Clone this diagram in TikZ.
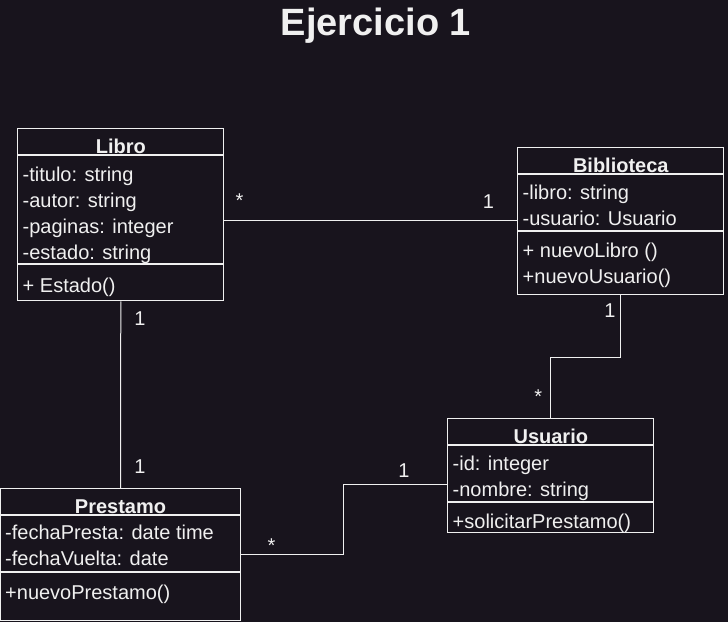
\documentclass[tikz,border=0pt]{standalone}
\usepackage{fontspec}
\setmainfont{Liberation Sans}
\usetikzlibrary{positioning}

\definecolor{canvas}{HTML}{18141D}
\definecolor{ink}{HTML}{F0F0F0}

\begin{document}
\begin{tikzpicture}[
		x=1pt, y=-1pt,
		font=\fontsize{20}{24}\selectfont,
		every node/.style={text=ink},
		header/.style={draw=ink, line width=1pt, fill=canvas, anchor=north west, minimum height=26pt, inner sep=0pt, text height=25pt, text depth=1pt, font=\fontsize{20}{24}\selectfont\bfseries},
		part/.style={draw=ink, line width=1pt, fill=canvas, inner sep=0pt},
		member/.style={anchor=base west, inner sep=0pt},
		link/.style={draw=ink, line width=1pt},
		mult/.style={anchor=base, inner xsep=0pt, inner ysep=2pt, fill=canvas},
	]
		\path[use as bounding box, fill=canvas] (0,0) rectangle (728,622);
		\node (title) [anchor=base, font=\fontsize{38}{44}\selectfont\bfseries] at (376,35) {Ejercicio 1};
		
		% Libro
		\node (libro) [header, minimum width=206pt] at (17.3,128.3) {Libro};
		\node (libro-attr) [part, below=0pt of libro, minimum width=206pt, minimum height=108pt] {};
		\node (libro-ops) [part, below=0pt of libro-attr, minimum width=206pt, minimum height=36pt] {};
		\node (libro-a1) [member] at (22.5,181) {-titulo: string};
		\node (libro-a2) [member] at (22.5,207) {-autor: string};
		\node (libro-a3) [member] at (22.5,233) {-paginas: integer};
		\node (libro-a4) [member] at (22.5,259) {-estado: string};
		\node (libro-o1) [member] at (22.5,292.5) {+ Estado()};
		
		% Biblioteca
		\node (bib) [header, minimum width=206pt] at (517.3,147.3) {Biblioteca};
		\node (bib-attr) [part, below=0pt of bib, minimum width=206pt, minimum height=56pt] {};
		\node (bib-ops) [part, below=0pt of bib-attr, minimum width=206pt, minimum height=62.4pt] {};
		\node (bib-a1) [member] at (522.5,199) {-libro: string};
		\node (bib-a2) [member] at (522.5,225) {-usuario: Usuario};
		\node (bib-o1) [member] at (522.5,257.5) {+ nuevoLibro ()};
		\node (bib-o2) [member] at (522.5,283.5) {+nuevoUsuario()};
		
		% Usuario
		\node (usuario) [header, minimum width=206pt] at (447.3,418.3) {Usuario};
		\node (usuario-attr) [part, below=0pt of usuario, minimum width=206pt, minimum height=55.7pt] {};
		\node (usuario-ops) [part, below=0pt of usuario-attr, minimum width=206pt, minimum height=30pt] {};
		\node (usuario-a1) [member] at (452.5,470) {-id: integer};
		\node (usuario-a2) [member] at (452.5,496) {-nombre: string};
		\node (usuario-o1) [member] at (452.5,528.5) {+solicitarPrestamo()};
		
		% Prestamo
		\node (prestamo) [header, minimum width=240pt] at (0,488.3) {Prestamo};
		\node (prestamo-attr) [part, below=0pt of prestamo, minimum width=240pt, minimum height=55.7pt] {};
		\node (prestamo-ops) [part, below=0pt of prestamo-attr, minimum width=240pt, minimum height=47.7pt] {};
		\node (prestamo-a1) [member] at (5,539.5) {-fechaPresta: date time};
		\node (prestamo-a2) [member] at (5,565.5) {-fechaVuelta: date};
		\node (prestamo-o1) [member] at (5,599.5) {+nuevoPrestamo()};
		
		% relaciones
		\draw[link] ([yshift=-11pt]libro-attr.east) -- ([yshift=-11pt]libro-attr.east -| bib-attr.west);
		\draw[link] (libro-ops.south) -- (prestamo.north);
		\draw[link] (bib-ops.south) -- ++(0,62.6) -| (usuario.north);
		\draw[link] ([yshift=-11pt]usuario-attr.west) -- ++(-103.5,0) |- ([yshift=-11pt]prestamo-attr.east);
		
		\node (m-libro-bib) [mult] at (239.5,207) {*};
		\node (m-bib-libro) [mult] at (488.5,208.3) {1};
		\node (m-libro-pre) [mult] at (140,325) {1};
		\node (m-pre-libro) [mult] at (140,473.3) {1};
		\node (m-bib-usu) [mult] at (610,317) {1};
		\node (m-usu-bib) [mult] at (538.3,403.3) {*};
		\node (m-usu-pre) [mult] at (404,477) {1};
		\node (m-pre-usu) [mult] at (271.5,552.3) {*};
	\end{tikzpicture}
\end{document}
